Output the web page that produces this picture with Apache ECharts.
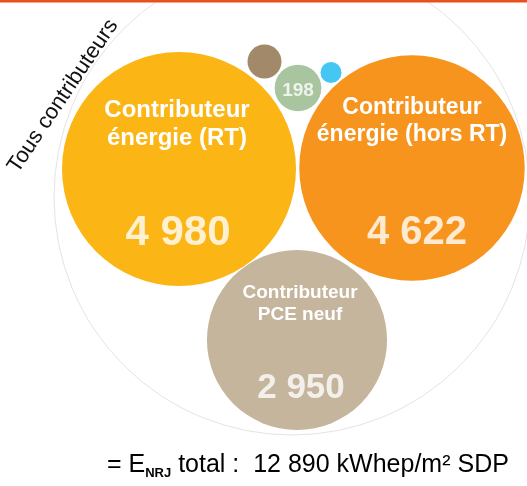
<!DOCTYPE html>
<html>
<head>
<meta charset="utf-8">
<script src="https://cdn.jsdelivr.net/npm/echarts@6/dist/echarts.min.js"></script>
<style>html,body{margin:0;padding:0;background:#fff;}#c{width:527px;height:486px;}</style>
</head>
<body>
<div id="c"></div>
<script>
// Data
const titles = ['Contributeur\nénergie (RT)', 'Contributeur\nénergie (hors RT)', 'Contributeur\nPCE neuf', '', '', ''];
const values = [4980, 4622, 2950, 105, 198, 40];
const valueLabels = ['4 980', '4 622', '2 950', '', '198', ''];
const totalLabel = '12 890 kWhep/m² SDP';
const groupLabel = 'Tous contributeurs';

// Layout (bubble-pack positions)
const posX = [179, 412, 297, 264.5, 298, 331];
const posY = [169, 168, 340, 61.5, 88, 72.5];
const colors = ['#fbb616', '#f7941d', '#c4b59c', '#a2896a', '#a8c59f', '#45c7f3'];
const titleOffset = [[-2, -45], [0, -47], [3, -36], [0, 0], [0, 0], [0, 0]];
const valueOffset = [[-1, 64], [5, 65], [4, 48], [0, 0], [0, 3], [0, 0]];
const titleSize = [24, 23, 19, 0, 0, 0];
const valueSize = [42, 40, 35, 0, 19, 0];

const refR = 117, refV = 4980;
const sizeOf = v => 2 * refR * Math.sqrt(v / refV);
const FF = '"Liberation Sans", Arial, sans-serif';

const bubbleData = values.map((v, i) => ({
  value: [posX[i], posY[i], v],
  symbolSize: sizeOf(v),
  itemStyle: { color: colors[i], opacity: 1 },
  label: {
    show: !!titles[i],
    formatter: titles[i],
    offset: titleOffset[i],
    fontSize: titleSize[i],
    lineHeight: Math.round(titleSize[i] * 1.17),
    fontWeight: 'bold', color: '#fff', fontFamily: FF, textBorderWidth: 0
  }
}));
const valueData = values.map((v, i) => ({
  value: [posX[i], posY[i], v],
  label: {
    show: !!valueLabels[i],
    formatter: valueLabels[i],
    offset: valueOffset[i],
    fontSize: valueSize[i],
    fontWeight: 'bold', color: '#fff', fontFamily: FF, textBorderWidth: 0
  }
}));

const chart = echarts.init(document.getElementById('c'), null, { renderer: 'canvas' });
chart.setOption({
  animation: false,
  backgroundColor: '#fff',
  grid: { left: 0, right: 0, top: 0, bottom: 0 },
  xAxis: { type: 'value', min: 0, max: 527, show: false },
  yAxis: { type: 'value', min: 0, max: 486, inverse: true, show: false },
  graphic: [
    { type: 'rect', shape: { x: 0, y: 0, width: 527, height: 2.5 }, style: { fill: '#e8511d' }, z: 10 },
    { type: 'circle', shape: { cx: 292, cy: 197, r: 238 }, style: { fill: 'none', stroke: '#e4e4e4', lineWidth: 1 }, z: -1 },
    { type: 'text', x: 63, y: 96, rotation: 56 * Math.PI / 180,
      style: { text: groupLabel, fontSize: 22, fontFamily: FF, fill: '#111', align: 'center', verticalAlign: 'middle' } },
    { type: 'text', x: 107, y: 465,
      style: {
        text: '{a|= E}{s|NRJ}{a| total :  ' + totalLabel + '}',
        fontFamily: FF, verticalAlign: 'middle', align: 'left',
        rich: {
          a: { fontSize: 25, fontFamily: FF, fill: '#000', color: '#000', lineHeight: 30, verticalAlign: 'middle' },
          s: { fontSize: 13, fontWeight: 'bold', fontFamily: FF, fill: '#000', color: '#000', lineHeight: 30, verticalAlign: 'bottom' }
        }
      } }
  ],
  series: [
    { type: 'scatter', name: 'bubbles', data: bubbleData, label: { position: 'inside' }, emphasis: { disabled: true }, z: 2 },
    { type: 'scatter', name: 'values', data: valueData, symbolSize: 1, itemStyle: { color: 'rgba(0,0,0,0)' },
      label: { position: 'inside' }, emphasis: { disabled: true }, silent: true, z: 3 }
  ]
});
</script>
</body>
</html>
